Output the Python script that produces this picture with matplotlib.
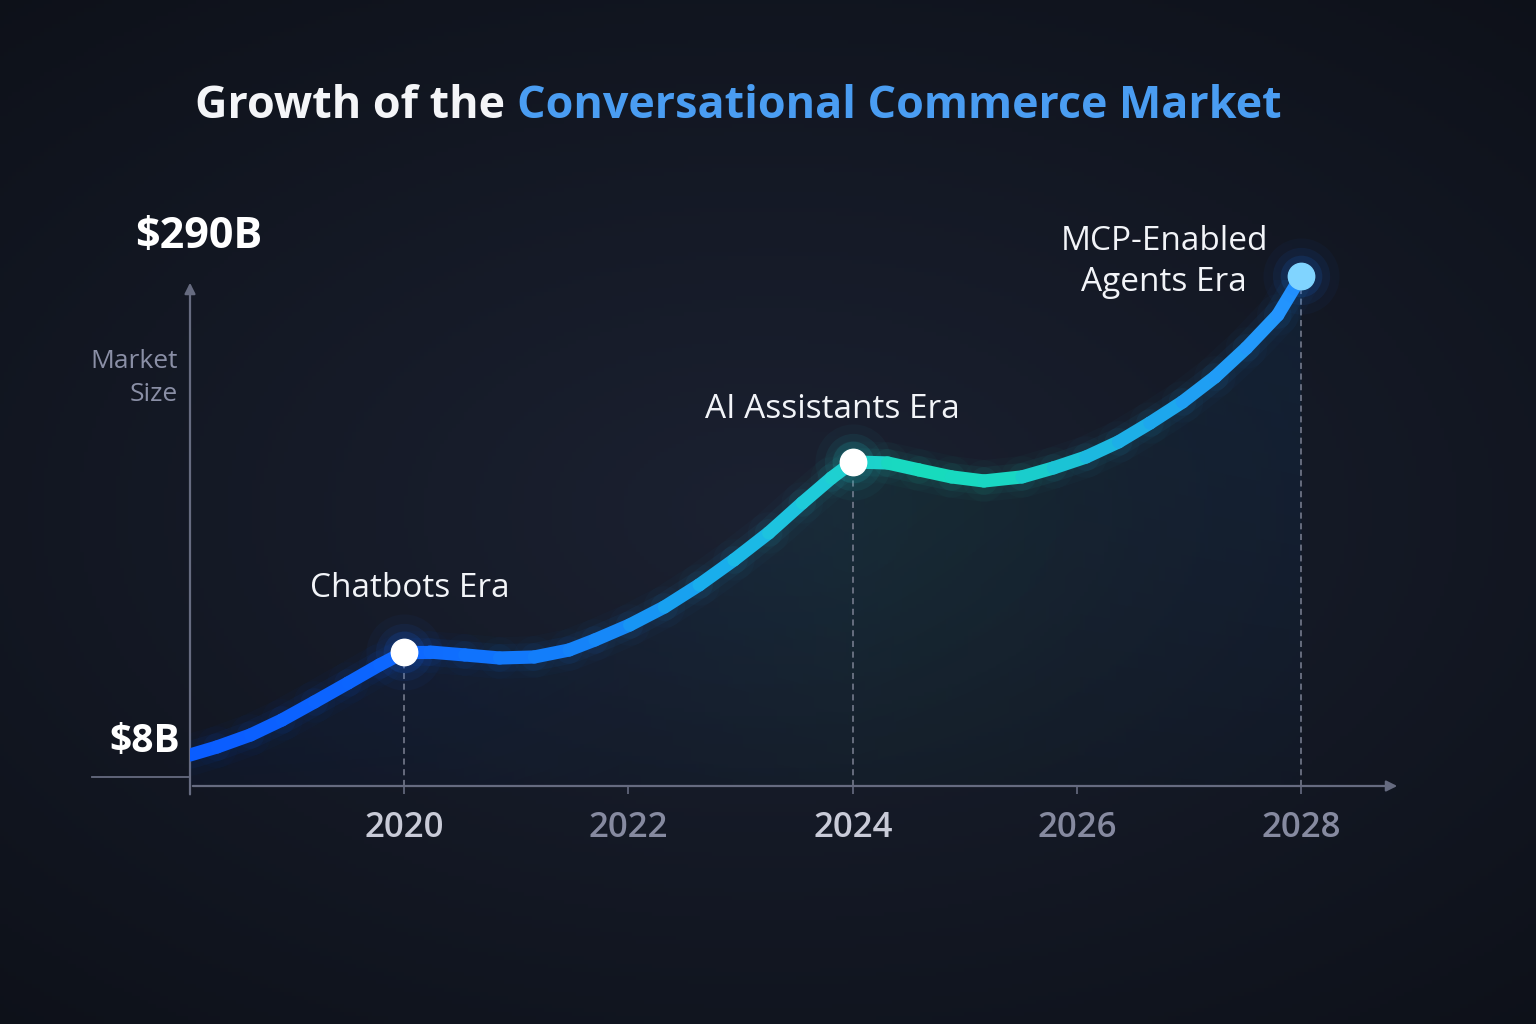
import numpy as np
import matplotlib
matplotlib.use("Agg")
import matplotlib.pyplot as plt
from matplotlib.collections import LineCollection
from matplotlib.colors import LinearSegmentedColormap, Normalize

plt.rcParams['font.family'] = ['Open Sans', 'DejaVu Sans']

# market size curve (year, $B)
years = [2018.09, 2018.33, 2018.63, 2018.91, 2019.20, 2019.50, 2019.78, 2020.00,
         2020.23, 2020.54, 2020.85, 2021.16, 2021.47, 2021.70, 2022.01, 2022.32,
         2022.63, 2022.94, 2023.25, 2023.55, 2023.81, 2024.00, 2024.31, 2024.59,
         2024.88, 2025.17, 2025.51, 2025.79, 2026.08, 2026.37, 2026.65, 2026.94,
         2027.23, 2027.51, 2027.79, 2028.00]
values = [8.0, 12.7, 19.8, 28.6, 39.2, 50.4, 61.0, 68.6,
          68.6, 66.9, 65.1, 65.7, 69.8, 75.7, 84.5, 95.1,
          108.1, 122.8, 138.7, 156.4, 171.1, 180.5, 179.9, 175.8,
          171.7, 169.3, 171.7, 177.0, 183.4, 192.3, 203.4, 215.8,
          230.5, 247.6, 267.0, 290.0]

era_years = [2020, 2024, 2028]
era_values = [68.6, 180.5, 290.0]
era_labels = ["Chatbots Era", "AI Assistants Era", "MCP-Enabled\nAgents Era"]

tick_years = [2020, 2022, 2024, 2026, 2028]
tick_labels = ["2020", "2022", "2024", "2026", "2028"]
tick_bright = [True, False, True, False, False]

W, H = 1536, 1024
fig = plt.figure(figsize=(W / 100, H / 100), dpi=100)

# background
bg = fig.add_axes([0, 0, 1, 1], zorder=-10)
yy, xx = np.mgrid[0:1:256j, 0:1:384j]
r = np.sqrt(((xx - 0.5) / 0.9) ** 2 + ((yy - 0.5) / 0.8) ** 2)
r = np.clip(r, 0, 1)
c_in = np.array([0x1b, 0x21, 0x31]) / 255
c_out = np.array([0x0b, 0x0e, 0x15]) / 255
img = c_in[None, None, :] * (1 - r[..., None]) + c_out[None, None, :] * r[..., None]
bg.imshow(img, extent=[0, 1, 0, 1], aspect='auto', origin='upper')
bg.axis('off')

# main axes, placed in pixels
L, R, T, B = 190, 1400, 280, 786
ax = fig.add_axes([L / W, 1 - B / H, (R - L) / W, (B - T) / H])
ax.set_facecolor('none')
x0, x1 = 2018.09, 2028.88
ylo = -10.25
ax.set_xlim(x0, x1)
ax.set_ylim(ylo, 287.6)
for s in ax.spines.values():
    s.set_visible(False)

axis_col = '#666b80'
ax.annotate('', xy=(1.0, 0), xytext=(0, 0), xycoords='axes fraction',
            arrowprops=dict(arrowstyle='-|>', color=axis_col, lw=1.6, mutation_scale=16))
ax.annotate('', xy=(0, 1.0), xytext=(0, -0.022), xycoords='axes fraction',
            arrowprops=dict(arrowstyle='-|>', color=axis_col, lw=1.6, mutation_scale=16))
ax.plot([-98 / (R - L), 0], [9 / (B - T), 9 / (B - T)], transform=ax.transAxes,
        color=axis_col, lw=1.3, clip_on=False)

ax.set_xticks(tick_years)
ax.set_xticklabels(tick_labels)
ax.tick_params(axis='x', length=6, width=1.2, color=axis_col, pad=12, labelsize=25)
for lab, b in zip(ax.get_xticklabels(), tick_bright):
    lab.set_color('#c9cbd8' if b else '#868aa0')
    lab.set_fontweight('semibold')
ax.set_yticks([])

# area under curve
cmap = LinearSegmentedColormap.from_list('era', [
    (0.0, '#0a5cff'), (0.2, '#0d68ff'), (0.38, '#1688f8'), (0.49, '#1ab4ea'),
    (0.58, '#1fd0d6'), (0.66, '#17dcbc'), (0.74, '#19d6c4'), (0.83, '#1cb6e2'),
    (0.9, '#1ea0f2'), (1.0, '#2494ff')])
norm = Normalize(years[0], years[-1])

poly = ax.fill_between(years, values, ylo, facecolor='none', edgecolor='none')
gx = np.linspace(x0, years[-1], 300)
gy = np.linspace(0, 1, 100)
rgba = np.zeros((100, 300, 4))
rgba[..., :3] = cmap(norm(gx))[None, :, :3] * 0.5
fade = np.interp(gx, [x0, 2020.5, 2022, 2024, 2026, 2028], [0.9, 0.8, 0.55, 0.7, 0.45, 0.5])
rgba[..., 3] = (0.08 + 0.28 * gy[:, None]) * fade[None, :]
im = ax.imshow(rgba, extent=[x0, years[-1], ylo, 290], aspect='auto',
               origin='lower', zorder=1, interpolation='bilinear')
im.set_clip_path(poly.get_paths()[0], transform=ax.transData)

# dashed drops
for ex, ev in zip(era_years, era_values):
    ax.plot([ex, ex], [ylo, ev], ls=(0, (4, 3)), color='#7d8294', lw=1.1, zorder=2)

# glowing gradient line
pts = np.column_stack([years, values])
segs = np.stack([pts[:-1], pts[1:]], axis=1)
mids = (np.array(years[:-1]) + np.array(years[1:])) / 2
cols = cmap(norm(mids))
for lw, a in [(30, 0.025), (20, 0.05)]:
    glow = cols.copy()
    glow[:, 3] = a
    ax.add_collection(LineCollection(segs, colors=glow, linewidths=lw,
                                     capstyle='round', joinstyle='round', zorder=3))
ax.add_collection(LineCollection(segs, colors=cols, linewidths=9.5, capstyle='round',
                                 joinstyle='round', zorder=4))

# markers
glow_cols = ['#1a6cff', '#1fd0d0', '#1a7cff']
for ex, ev, gc in zip(era_years, era_values, glow_cols):
    for s, a in [(3000, 0.04), (1700, 0.07), (900, 0.12)]:
        ax.scatter([ex], [ev], s=s, color=gc, alpha=a, lw=0, zorder=5, clip_on=False)
ax.plot(era_years[:2], era_values[:2], 'o', ms=19, color='white', zorder=6, clip_on=False)
ax.plot(era_years[2:], era_values[2:], 'o', ms=19, color='#80d4ff', zorder=6, clip_on=False)

# era labels
offs = [(6, 64), (-20, 52), (-137, 14)]
for ex, ev, txt, (dx, dy) in zip(era_years, era_values, era_labels, offs):
    ax.annotate(txt, (ex, ev), xytext=(dx, dy), textcoords='offset pixels',
                ha='center', va='center', color='#f2f4f8', fontsize=24,
                linespacing=1.3, zorder=7, annotation_clip=False)

# y labels
fig.text(199 / W, 1 - 237 / H, "$290B", color='white', fontsize=31, weight='bold',
         ha='center', va='center')
fig.text(180 / W, 1 - 742 / H, "$8B", color='white', fontsize=28, weight='bold',
         ha='right', va='center')
fig.text(178 / W, 1 - 378 / H, "Market\nSize", color='#8a8fa6', fontsize=19,
         ha='right', va='center', multialignment='right', linespacing=1.4)

# title in two colours, fitted to the reference width
renderer = fig.canvas.get_renderer()
part1, part2 = "Growth of the ", "Conversational Commerce Market"
probe = fig.text(0, 0, part1 + part2, fontsize=36, weight='bold')
w = probe.get_window_extent(renderer=renderer).width
probe.remove()
fs = 36 * 1086 / w
t1 = fig.text(195 / W, 1 - 107 / H, part1, color='#f4f5f8', fontsize=fs,
              weight='bold', ha='left', va='center')
bb = t1.get_window_extent(renderer=renderer)
fig.text(bb.x1 / W, 1 - 107 / H, part2, color='#4a9df2',
         fontsize=fs, weight='bold', ha='left', va='center')

fig.savefig('out.png', dpi=100)
